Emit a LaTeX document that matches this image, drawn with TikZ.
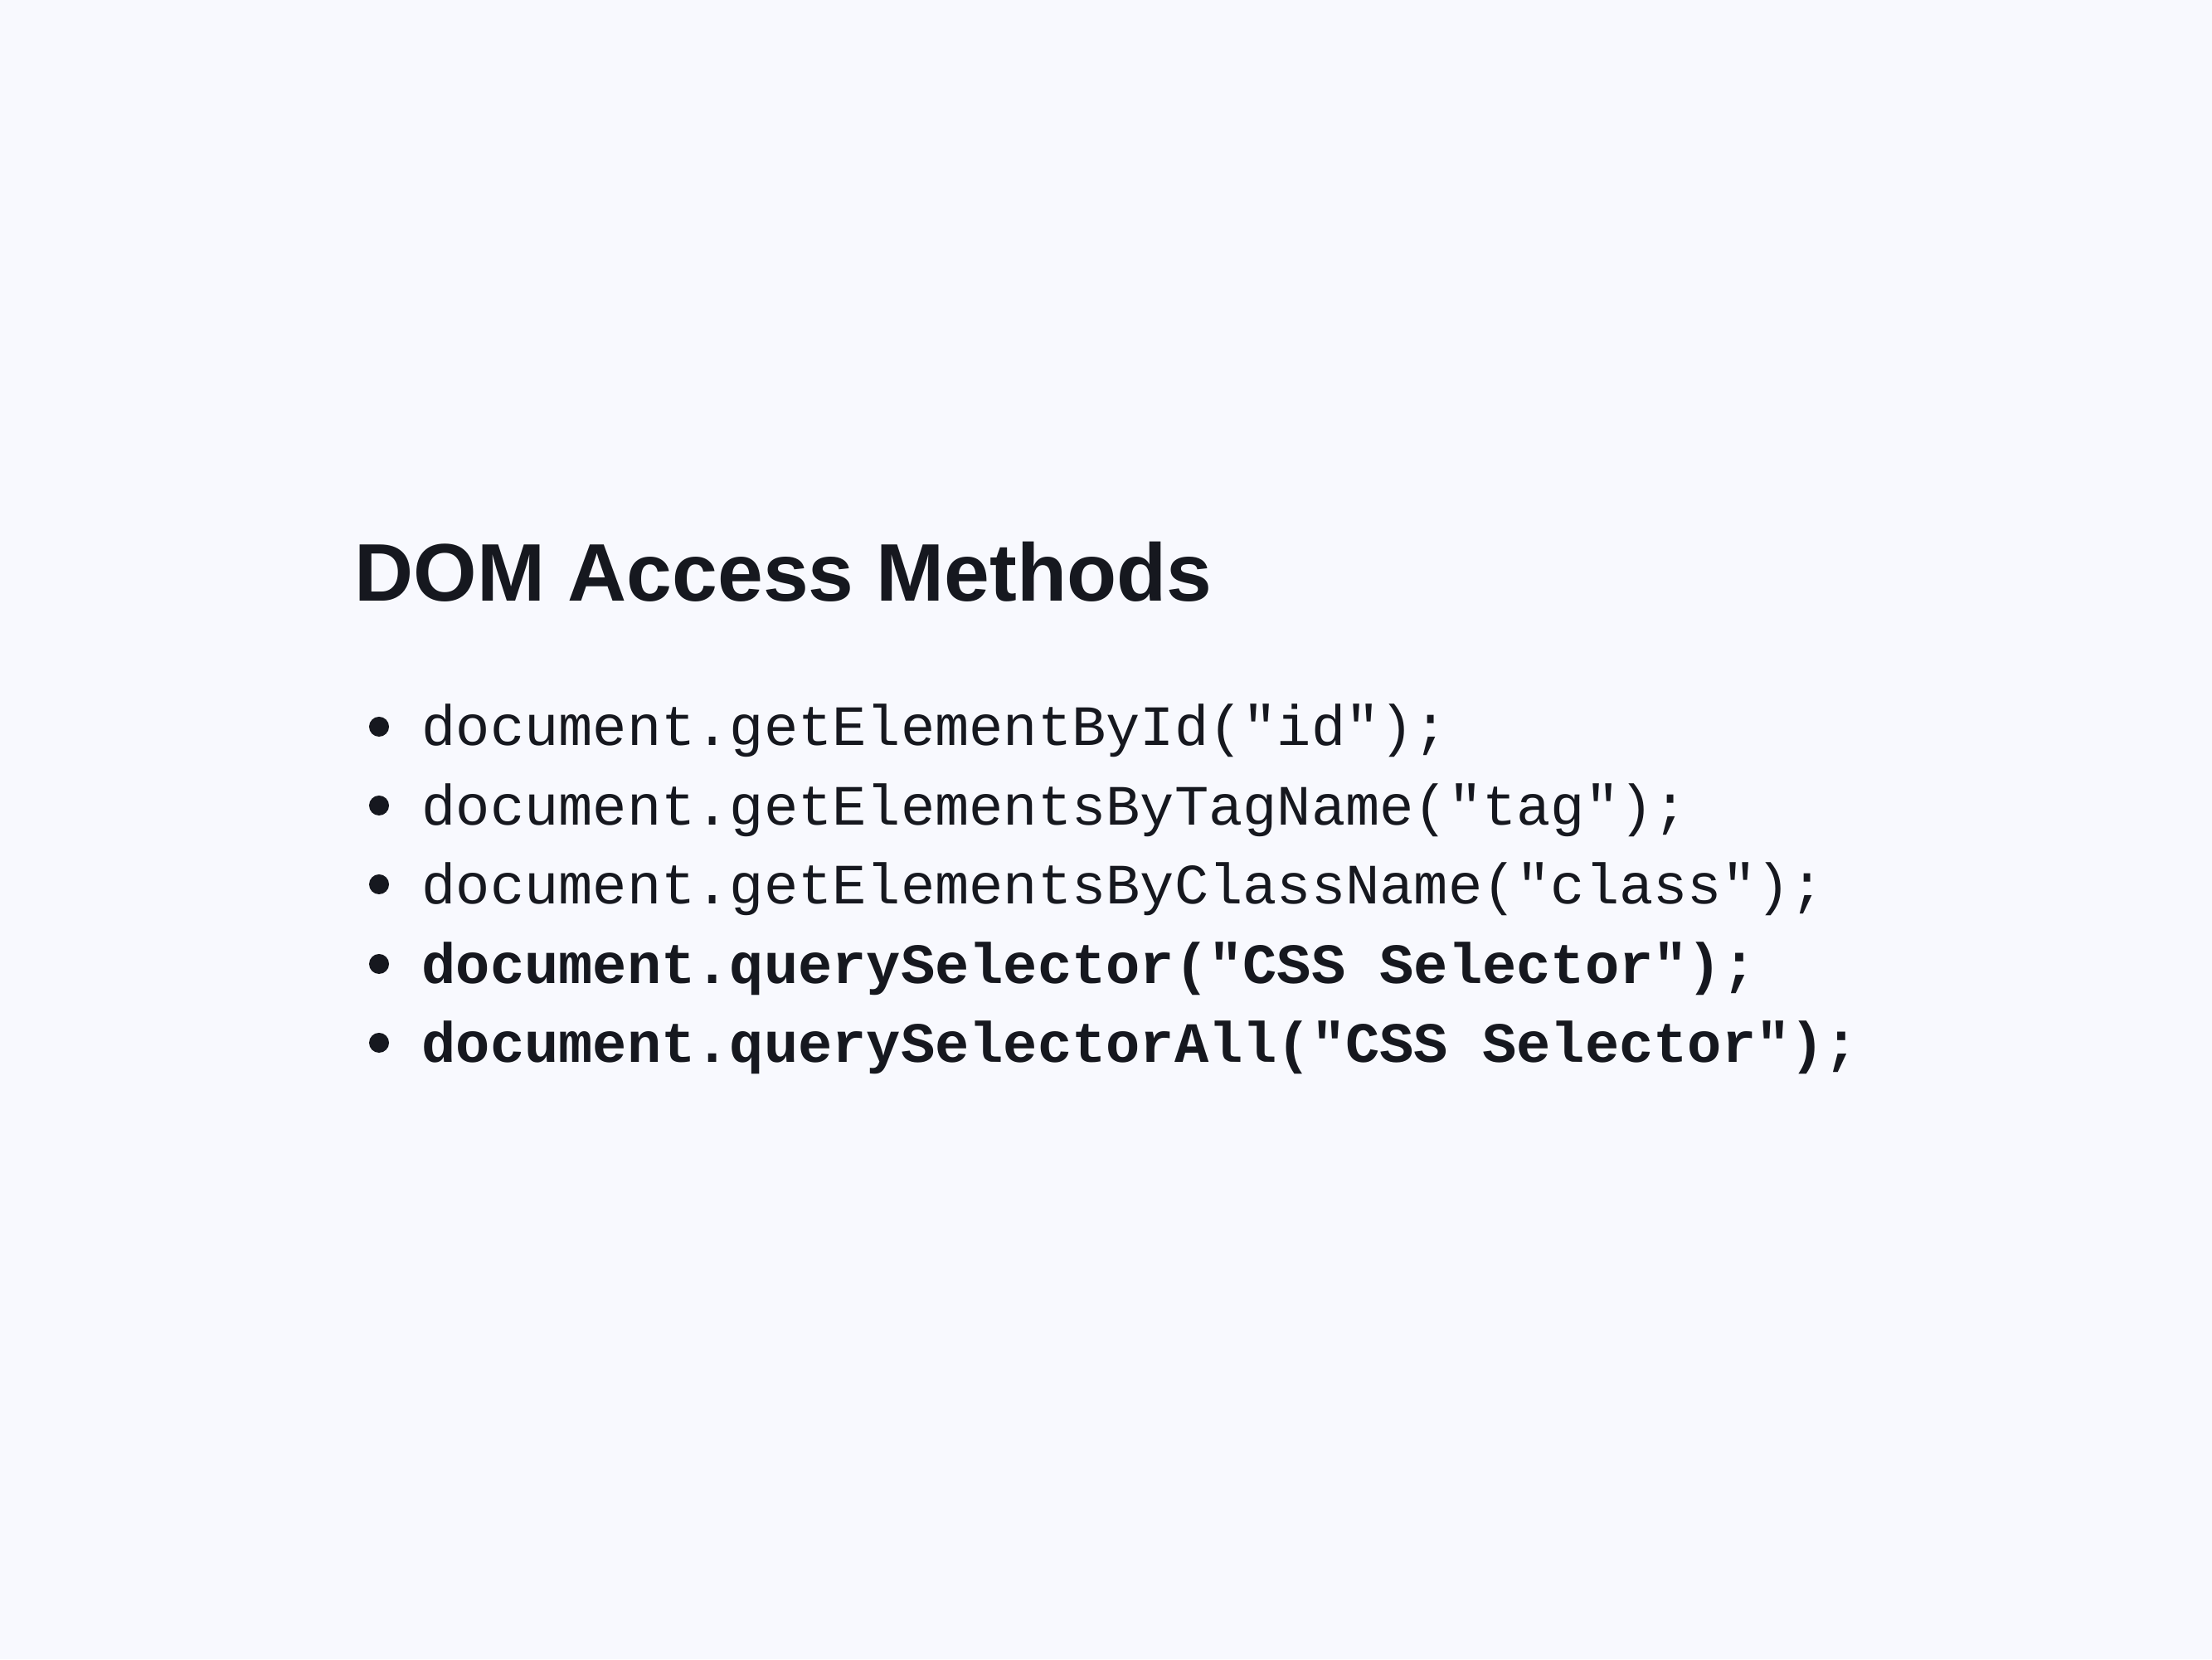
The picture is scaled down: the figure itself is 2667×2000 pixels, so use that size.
\documentclass[tikz,border=0pt]{standalone}
\usepackage{fontspec}
\setmainfont{Liberation Sans}
\setmonofont{Liberation Mono}
\usepackage{tikz}
\definecolor{pagebg}{HTML}{F8F9FE}
\definecolor{ink}{HTML}{16181F}
\tikzset{
  heading/.style={anchor=base west,inner sep=0pt,text=ink,font=\bfseries\fontsize{28}{34}\selectfont},
  codeline/.style={anchor=base west,inner sep=0pt,text=ink,font=\ttfamily\fontsize{19.55}{23}\selectfont},
  boldline/.style={codeline,font=\ttfamily\bfseries\fontsize{19.55}{23}\selectfont},
}
\begin{document}
\begin{tikzpicture}[line cap=round,line join=round,x=0.01cm,y=0.01cm]
\fill[pagebg] (0,0) rectangle (2667,2000);
\useasboundingbox (0,0) rectangle (2667,2000);
\draw (427,1275) node[heading] (title) {DOM Access Methods};
\draw (508,1101) node[codeline] (byid) {document.getElementById("id");};
\draw (508,1005) node[codeline] (bytag) {document.getElementsByTagName("tag");};
\draw (508,910) node[codeline] (byclass) {document.getElementsByClassName("class");};
\draw (508,814) node[boldline] (qsel) {document.querySelector("CSS Selector");};
\draw (508,719) node[boldline] (qselall) {document.querySelectorAll("CSS Selector");};
\fill[ink] (457,1124) circle (1.2mm);
\fill[ink] (457,1029) circle (1.2mm);
\fill[ink] (457,934) circle (1.2mm);
\fill[ink] (457,838) circle (1.2mm);
\fill[ink] (457,743) circle (1.2mm);
\end{tikzpicture}
\end{document}
